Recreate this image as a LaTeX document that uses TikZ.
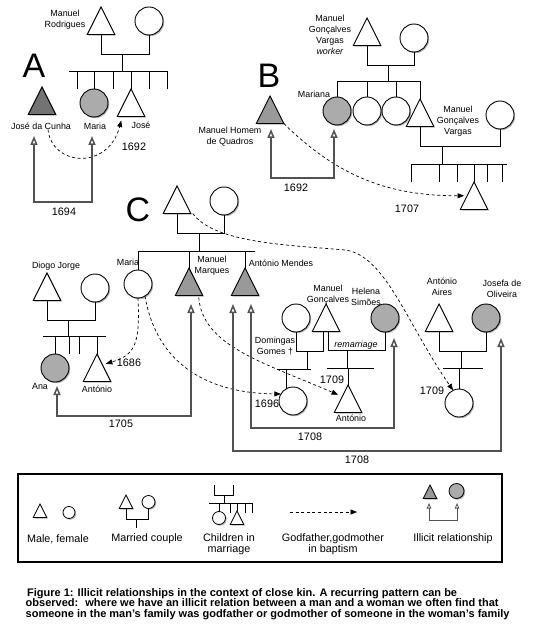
\documentclass[tikz,border=0pt]{standalone}
\usepackage{fontspec}
\setmainfont{Liberation Sans}
\usetikzlibrary{shapes.geometric,arrows.meta,shadows}

\definecolor{illdark}{gray}{0.45}
\definecolor{illmale}{gray}{0.6}
\definecolor{illfem}{gray}{0.67}
\definecolor{illline}{gray}{0.32}

\tikzset{
  person/.style={draw=black, line width=0.9pt, inner sep=0pt, outer sep=0pt,
    drop shadow={shadow xshift=1.2pt, shadow yshift=-1.2pt, opacity=0.3, fill=black}},
  male/.style={person, isosceles triangle, isosceles triangle stretches,
    shape border rotate=90, minimum width=27.5pt, minimum height=27.5pt, anchor=apex, fill=#1},
  male/.default=white,
  female/.style={person, circle, minimum size=28pt, fill=#1},
  female/.default=white,
  smale/.style={male=#1, minimum width=13.5pt, minimum height=13.5pt, line width=0.8pt},
  smale/.default=white,
  sfemale/.style={female, minimum size=#1, line width=0.8pt},
  kin/.style={line width=0.8pt},
  godp/.style={line width=0.7pt, dash pattern=on 3pt off 2.6pt, -{Triangle[length=6.5pt,width=5pt]}},
  illicit/.style={draw=illline, line width=2pt,
    {Triangle[open,length=9pt,width=7pt,line width=1.5pt]}-{Triangle[open,length=9pt,width=7pt,line width=1.5pt]}},
  illkey/.style={draw=illline, line width=0.9pt,
    {Triangle[open,length=5.5pt,width=4.5pt,line width=0.8pt]}-{Triangle[open,length=5.5pt,width=4.5pt,line width=0.8pt]}},
  who/.style={font=\fontsize{8.9}{11.2}\selectfont, align=center, inner sep=0pt},
  yr/.style={font=\fontsize{10.8}{12}\selectfont, inner sep=0pt},
  big/.style={font=\fontsize{34}{36}\selectfont, inner sep=0pt},
  key/.style={font=\fontsize{10.8}{11.2}\selectfont, align=center, inner sep=0pt}
}

\begin{document}
\begin{tikzpicture}[x=1pt,y=-1pt]
\useasboundingbox (0,0) rectangle (535,628);

% family A
\node[big] (lA) at (34,66) {A};
\node[male] (mr) at (101,7) {};
\node[female] (mrw) at (149,21) {};
\node[who] (lmr) at (65,20) {Manuel\\Rodrigues};
\node[male=illdark] (jc) at (42,87) {};
\node[female=illfem] (maria) at (94,103) {};
\node[male] (jose) at (131,89) {};
\node[who] (ljc) at (41,126) {José da Cunha};
\node[who] (lmaria) at (95,126) {Maria};
\node[who] (ljose) at (141,125) {José};
\node[yr] (yA1) at (134,147) {1692};
\node[yr] (yA2) at (64,212) {1694};
\coordinate (mA) at (122,54);
\coordinate (bA) at (122,71);
\draw[kin] (mr.lower side) -- (mr.lower side |- mA) -| (mrw.south);
\draw[kin] (mA) -- (bA);
\draw[kin] (69,71) -- (167,71);
\foreach \x in {77,113,149,167} \draw[kin] (\x,71) -- (\x,89);
\draw[kin] (maria.north) -- (maria.north |- bA);
\draw[kin] (jose.apex) -- (jose.apex |- bA);
\draw[godp] ([xshift=7pt]ljc.south) .. controls +(4,37) and +(-13,50) .. ([xshift=4pt,yshift=-4pt]jose.left corner);
\coordinate (iA1) at (34,136);
\coordinate (iA2) at (92,136);
\draw[illicit] (iA1) -- ++(0,66) -| (iA2);

% family B
\node[big] (lB) at (269,76) {B};
\node[male] (mgv) at (367,18) {};
\node[female] (mgvw) at (414,38) {};
\node[who] (lmgv) at (330,35) {Manuel\\Gonçalves\\Vargas\\\textit{worker}};
\node[male=illmale] (mhq) at (270,96) {};
\node[who] (lmhq) at (230,137) {Manuel Homem\\de Quadros};
\node[female=illfem] (mariana) at (337,111) {};
\node[female] (sisB1) at (367,111) {};
\node[female] (sisB2) at (396,111) {};
\node[male] (mgv2) at (420,99) {};
\node[female] (mgv2w) at (500,115) {};
\node[who] (lmariana) at (314,94) {Mariana};
\node[who] (lmgv2) at (458,121) {Manuel\\Gonçalves\\Vargas};
\node[male] (kidB) at (474,182) {};
\node[yr] (yB1) at (296,188) {1692};
\node[yr] (yB2) at (407,209) {1707};
\coordinate (mB) at (388,65);
\coordinate (bB) at (388,81);
\draw[kin] (mgv.lower side) -- (mgv.lower side |- mB) -| (mgvw.south);
\draw[kin] (mB) -- (bB);
\draw[kin] (mariana.north |- bB) -- (mgv2.apex |- bB);
\foreach \n in {mariana,sisB1,sisB2} \draw[kin] (\n.north) -- (\n.north |- bB);
\draw[kin] (mgv2.apex) -- (mgv2.apex |- bB);
\coordinate (mB2) at (442,146);
\coordinate (bB2) at (442,164);
\draw[kin] (mgv2.lower side) -- (mgv2.lower side |- mB2) -| (mgv2w.south);
\draw[kin] (mB2) -- (bB2);
\draw[kin] (411,164) -- (507,164);
\foreach \x in {411,439,457,487,502} \draw[kin] (\x,164) -- (\x,182);
\draw[kin] (kidB.apex) -- (kidB.apex |- bB2);
\draw[godp] (mhq.right corner) .. controls +(56,55) and +(-73,0) .. ([xshift=-3pt]kidB.left side);
\coordinate (iB1) at (271,129);
\coordinate (iB2) at (334,129);
\draw[illicit] (iB1) -- ++(0,49) -| (iB2);

% family C
\node[big] (lC) at (138,210) {C};
\node[male] (cf) at (177,186) {};
\node[female] (cfw) at (224,201) {};
\node[female] (mariaC) at (138,284) {};
\node[male=illmale] (mm) at (189,268) {};
\node[male=illmale] (am) at (245,268) {};
\node[who] (lmariaC) at (128,262) {Maria};
\node[who] (lmm) at (212,265.5) {Manuel\\Marques};
\node[who] (lam) at (281,263) {António Mendes};
\coordinate (mC) at (199,233);
\coordinate (bC) at (199,251);
\coordinate (bCr) at (255,251);
\draw[kin] (cf.lower side) -- (cf.lower side |- mC) -| (cfw.south);
\draw[kin] (mC) -- (bC);
\draw[kin] (mariaC.north |- bC) -- (bCr);
\foreach \n/\q in {mariaC/north,mm/apex,am/apex} \draw[kin] (\n.\q) -- (\n.\q |- bC);

% Diogo Jorge
\node[male] (dj) at (47,273) {};
\node[female] (djw) at (95,288) {};
\node[who] (ldj) at (56,266) {Diogo Jorge};
\node[female=illfem] (ana) at (55,368) {};
\node[male] (ant1) at (97,354) {};
\node[who] (lana) at (40,386) {Ana};
\node[who] (lant1) at (97,389) {António};
\coordinate (mD) at (68,320);
\coordinate (bD) at (68,336);
\draw[kin] (dj.lower side) -- (dj.lower side |- mD) -| (djw.south);
\draw[kin] (mD) -- (bD);
\draw[kin] (43,336) -- (106,336);
\foreach \x in {69,79} \draw[kin] (\x,336) -- (\x,354);
\draw[kin] (ana.north) -- (ana.north |- bD);
\draw[kin] (ant1.apex) -- (ant1.apex |- bD);

% Manuel Goncalves, Domingas Gomes, Helena Simoes
\node[female] (dg) at (296,318) {};
\node[male] (mg) at (326,304) {};
\node[female=illfem] (hs) at (385,318) {};
\node[who] (lmg) at (328,294.5) {Manuel\\Gonçalves};
\node[who] (lhs) at (366,296.5) {Helena\\Simões};
\node[who] (ldg) at (275,346) {Domingas\\Gomes †};
\node[who, font=\fontsize{8.9}{11.2}\selectfont\itshape] (lrem) at (356,345) {remarriage};
\node[female] (kidDG) at (293,401) {};
\node[male] (ant2) at (348,385) {};
\node[who] (lant2) at (351,418) {António};
\coordinate (mDG) at (307,351);
\coordinate (bDG) at (307,369);
\draw[kin] (dg.south) -- (dg.south |- mDG) -| ([xshift=-3pt]mg.lower side);
\draw[kin] (mDG) -- (bDG);
\draw[kin] (277,369) -- (311,369);
\draw[kin] (kidDG.120) -- (kidDG.120 |- bDG);
\coordinate (mR) at (347,350);
\coordinate (bR) at (347,368);
\draw[kin] ([xshift=2pt]mg.lower side) -- ++(0,19) -| (hs.south);
\draw[kin] (mR) -- (bR);
\draw[kin] (327,368) -- (374,368);
\draw[kin] (ant2.apex) -- (ant2.apex |- bR);

% Antonio Aires, Josefa de Oliveira
\node[male] (aa) at (439,304) {};
\node[female=illfem] (jo) at (486,318) {};
\node[who] (laa) at (442,286.5) {António\\Aires};
\node[who] (ljo) at (502,289) {Josefa de\\Oliveira};
\node[female] (kidAA) at (459,403) {};
\coordinate (mAA) at (461,351);
\coordinate (bAA) at (461,368);
\draw[kin] (aa.lower side) -- (aa.lower side |- mAA) -| (jo.south);
\draw[kin] (mAA) -- (bAA);
\draw[kin] (443,368) -- (483,368);
\draw[kin] (kidAA.north) -- (kidAA.north |- bAA);

% years C
\node[yr] (yC1) at (129,363) {1686};
\node[yr] (yC2) at (121,424) {1705};
\node[yr] (yC3) at (332,380) {1709};
\node[yr] (yC4) at (267,404) {1696};
\node[yr] (yC5) at (310,437) {1708};
\node[yr] (yC6) at (357,460) {1708};
\node[yr] (yC7) at (432,391) {1709};

% godparents C
\coordinate (bendC) at (345,250);
\draw[godp] ([xshift=2pt]cf.right corner) .. controls +(22,30) and +(-55,-5) .. (bendC)
  .. controls +(40,5) and +(-47,-68) .. (kidAA.115);
\draw[godp] (mariaC.south) .. controls +(2,45) and +(30,-9) .. ([xshift=2pt,yshift=4pt]ant1.right side);
\draw[godp] (mariaC.-60) .. controls +(10,59) and +(-84,-1) .. (kidDG.150);
\draw[godp] ([xshift=-4pt,yshift=-2pt]mm.right corner) .. controls +(4,48) and +(-77,-33) .. ([xshift=-3pt,yshift=4pt]ant2.left side);

% illicit C
\coordinate (iC1a) at (57,386);
\coordinate (iC1b) at (191,304);
\coordinate (iC2a) at (251,304);
\coordinate (iC2b) at (394,338);
\coordinate (iC3a) at (233,304);
\coordinate (iC3b) at (501,338);
\draw[illicit] (iC1a) -- ++(0,30) -| (iC1b);
\draw[illicit] (iC2a) -- ++(0,124) -| (iC2b);
\draw[illicit] (iC3a) -- ++(0,147) -| (iC3b);

% legend
\draw[line width=1.1pt] (18,474) rectangle (502,562);
\node[smale] (k1m) at (40,504) {};
\node[sfemale=12pt] (k1f) at (69,512.5) {};
\node[key] (lk1) at (58,539) {Male, female};
\node[smale] (k2m) at (126,495) {};
\node[sfemale=13pt] (k2f) at (148.5,502) {};
\coordinate (mk2) at (136,519);
\draw[kin] (k2m.lower side) -- (k2m.lower side |- mk2) -| (k2f.south);
\draw[kin] (mk2) -- (136,528);
\node[key] (lk2) at (147,539) {Married couple};
\coordinate (bk3) at (224,503);
\draw[kin] (214,485) |- (233,495) -- (233,485);
\draw[kin] (224,495) -- (bk3);
\draw[kin] (209,503) -- (253,503);
\node[sfemale=13pt] (k3f) at (219,518) {};
\node[smale] (k3m) at (237,511) {};
\foreach \x in {230,245,252} \draw[kin] (\x,503) -- (\x,513);
\draw[kin] (k3f.north) -- (k3f.north |- bk3);
\draw[kin] (k3m.apex) -- (k3m.apex |- bk3);
\node[key] (lk3) at (229,544.5) {Children in\\marriage};
\coordinate (k4a) at (290,512);
\coordinate (k4b) at (357,512);
\draw[godp] (k4a) -- (k4b);
\node[key] (lk4) at (333,544.5) {Godfather,godmother\\in baptism};
\node[smale=illmale] (k5m) at (430,485) {};
\node[sfemale=15pt, fill=illfem] (k5f) at (456.5,491) {};
\coordinate (ik1) at (429,503);
\coordinate (ik2) at (457,503);
\draw[illkey] (ik1) -- ++(0,17) -| (ik2);
\node[key] (lk5) at (453,539) {Illicit relationship};

% caption
\node[font=\bfseries\fontsize{11}{10.5}\selectfont, align=left, inner sep=0pt, anchor=north west] (cap) at (25.5,588)
  {\hspace*{1.5pt}Figure 1: Illicit relationships in the context of close kin. A recurring pattern can be\\
   observed:~ where we have an illicit relation between a man and a woman we often find that\\
   someone in the man's family was godfather or godmother of someone in the woman's family};
\end{tikzpicture}
\end{document}
